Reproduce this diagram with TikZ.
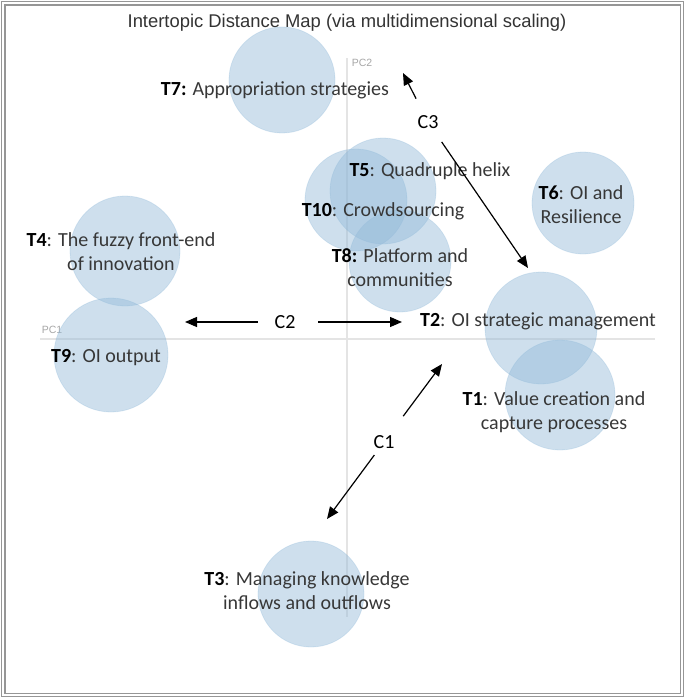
\documentclass[tikz,border=0pt]{standalone}
\usepackage{xcolor}
\usepackage{fontspec}
\setmainfont{Carlito}
\newfontfamily\plotfont{Liberation Sans}
\usepackage{tikz}
\usetikzlibrary{shapes.geometric, arrows.meta, positioning}

\definecolor{topicblue}{RGB}{146,185,216}
\definecolor{labelgray}{RGB}{55,55,55}
\definecolor{axisgray}{RGB}{228,228,228}
\definecolor{framegray}{RGB}{150,150,150}

\begin{document}
\begin{tikzpicture}[x=1pt, y=-1pt]
\tikzstyle{topic} = [circle, fill=topicblue, fill opacity=0.45, draw=topicblue, draw opacity=0.3, line width=0.8pt, inner sep=0pt]
\tikzstyle{toplabel} = [align=center, text=labelgray, font=\fontsize{20}{24}\selectfont, inner sep=0pt]
\tikzstyle{cluster} = [circle, minimum size=48pt, inner sep=0pt, font=\fontsize{20}{24}\selectfont]
\tikzstyle{arrow} = [line width=1.2pt, -{Triangle[length=12pt, width=10pt]}]
\tikzstyle{axis} = [axisgray, line width=1.5pt]
\tikzstyle{pclabel} = [text=black!35, font=\plotfont\fontsize{10.5}{12}\selectfont, inner sep=0pt]

\useasboundingbox (0,0) rectangle (685,698);
\draw [framegray, line width=1.5pt] (1.7,1.7) rectangle (683.3,696.3);
\draw [framegray, line width=1.1pt] (5,5) rectangle (680.5,693.5);

\node (title) [text=black!80, font=\plotfont\fontsize{18.4}{22}\selectfont] at (347,23) {Intertopic Distance Map (via multidimensional scaling)};

% axes
\draw [axis] (347,58) -- (347,617);
\draw [axis] (40,339) -- (655,339);
\node (pc2) [pclabel] at (362,63) {PC2};
\node (pc1) [pclabel] at (52,330) {PC1};

% topics
\node (t7) [topic, minimum size=106pt] at (282,80) {};
\node (t10) [topic, minimum size=102pt] at (356,200) {};
\node (t5) [topic, minimum size=106pt] at (383,191) {};
\node (t8) [topic, minimum size=102pt] at (400,261) {};
\node (t6) [topic, minimum size=102pt] at (583,203) {};
\node (t4) [topic, minimum size=110pt] at (125,251) {};
\node (t9) [topic, minimum size=114pt] at (111,355) {};
\node (t2) [topic, minimum size=112pt] at (541,328) {};
\node (t1) [topic, minimum size=110pt] at (560,395) {};
\node (t3) [topic, minimum size=106pt] at (311,594) {};

\node (t7l) [toplabel] at (275,90) {\textcolor{black}{\textbf{T7:}} Appropriation strategies};
\node (t5l) [toplabel] at (430,171) {\textcolor{black}{\textbf{T5}}: Quadruple helix};
\node (t10l) [toplabel] at (383,211) {\textcolor{black}{\textbf{T10}}: Crowdsourcing};
\node (t8l) [toplabel] at (400,268) {\textcolor{black}{\textbf{T8:}} Platform and\\communities};
\node (t6l) [toplabel] at (581,205) {\textcolor{black}{\textbf{T6}}: OI and\\Resilience};
\node (t4l) [toplabel] at (121,252) {\textcolor{black}{\textbf{T4}}: The fuzzy front-end\\of innovation};
\node (t9l) [toplabel] at (106,358) {\textcolor{black}{\textbf{T9}}: OI output};
\node (t2l) [toplabel] at (538,321) {\textcolor{black}{\textbf{T2}}: OI strategic management};
\node (t1l) [toplabel] at (554,412) {\textcolor{black}{\textbf{T1}}: Value creation and\\capture processes};
\node (t3l) [toplabel] at (307,591) {\textcolor{black}{\textbf{T3}}: Managing knowledge\\inflows and outflows};

% clusters
\node (c3) [cluster] at (428,122) {C3};
\node (c2) [cluster] at (285,322) {C2};
\node (c1) [cluster] at (384,442) {C1};

\coordinate (c3a) at (403,73);
\coordinate (c3b) at (528,268);
\coordinate (c2a) at (185,322);
\coordinate (c2b) at (402,322);
\coordinate (c1a) at (442,364);
\coordinate (c1b) at (327,519);

\draw [arrow, shorten <=2pt] (c3) -- (c3a);
\draw [arrow] (c3) -- (c3b);
\draw [arrow, shorten <=3pt] (c2) -- (c2a);
\draw [arrow, shorten <=9pt] (c2) -- (c2b);
\draw [arrow, shorten <=8pt] (c1) -- (c1a);
\draw [arrow, shorten <=-8pt] (c1) -- (c1b);

\end{tikzpicture}
\end{document}
